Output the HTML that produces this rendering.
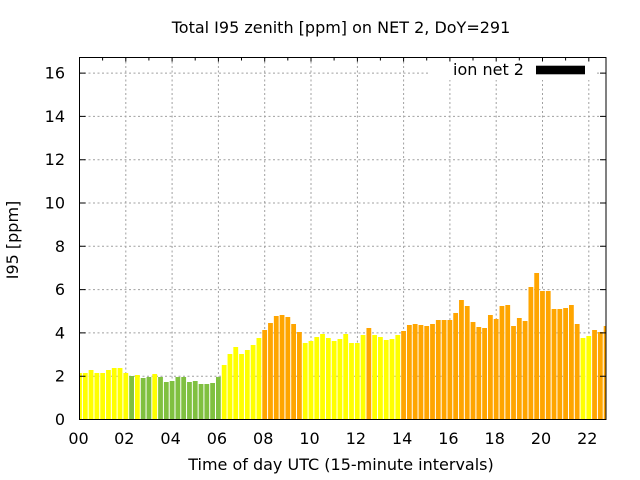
<!DOCTYPE html>
<html>
<head>
<meta charset="utf-8">
<style>
html,body{margin:0;padding:0;background:#fff;}
svg{display:block;}
text{font-family:"DejaVu Sans","Liberation Sans",sans-serif;font-size:16px;fill:#000;}
</style>
</head>
<body>
<svg width="640" height="480" viewBox="0 0 640 480" xmlns="http://www.w3.org/2000/svg">
<rect width="640" height="480" fill="#fff"/>
<defs><clipPath id="pc"><rect x="79.5" y="57" width="526.5" height="362.5"/></clipPath></defs>
<path fill="none" stroke="#a0a0a0" stroke-dasharray="2,2.5" d="M79.5 376.2H606M79.5 332.9H606M79.5 289.6H606M79.5 246.3H606M79.5 203H606M79.5 159.7H606M79.5 116.4H606M79.5 73.1H606M125.8 57V419.5M172.1 57V419.5M218.4 57V419.5M264.7 57V419.5M311 57V419.5M357.4 57V419.5M403.6 57V419.5M449.9 57V419.5M496.2 57V419.5M542.5 57V419.5M588.8 57V419.5"/>
<rect x="428" y="58" width="167" height="22" fill="#fff"/>
<g clip-path="url(#pc)">
<path fill="#ffff00" d="M77.1 419.5V373h4.8V419.5zM82.89 419.5V373h4.8V419.5zM88.67 419.5V370h4.8V419.5zM94.46 419.5V373h4.8V419.5zM100.25 419.5V373h4.8V419.5zM106.04 419.5V370h4.8V419.5zM111.82 419.5V368h4.8V419.5zM117.61 419.5V368h4.8V419.5zM123.4 419.5V373h4.8V419.5zM134.97 419.5V375h4.8V419.5zM152.33 419.5V374h4.8V419.5zM221.78 419.5V365h4.8V419.5zM227.56 419.5V354h4.8V419.5zM233.35 419.5V347h4.8V419.5zM239.14 419.5V354h4.8V419.5zM244.92 419.5V350h4.8V419.5zM250.71 419.5V345h4.8V419.5zM256.5 419.5V338h4.8V419.5zM302.79 419.5V343h4.8V419.5zM308.58 419.5V341h4.8V419.5zM314.37 419.5V337h4.8V419.5zM320.15 419.5V334h4.8V419.5zM325.94 419.5V338h4.8V419.5zM331.73 419.5V341h4.8V419.5zM337.52 419.5V339h4.8V419.5zM343.3 419.5V334h4.8V419.5zM349.09 419.5V343h4.8V419.5zM354.88 419.5V343h4.8V419.5zM360.66 419.5V335h4.8V419.5zM372.24 419.5V335h4.8V419.5zM378.02 419.5V337h4.8V419.5zM383.81 419.5V340h4.8V419.5zM389.6 419.5V339h4.8V419.5zM395.39 419.5V335h4.8V419.5zM580.57 419.5V338h4.8V419.5zM586.36 419.5V336h4.8V419.5z"/>
<path fill="#80c040" d="M129.18 419.5V376h4.8V419.5zM140.76 419.5V378h4.8V419.5zM146.54 419.5V377h4.8V419.5zM158.12 419.5V377h4.8V419.5zM163.91 419.5V382h4.8V419.5zM169.69 419.5V381h4.8V419.5zM175.48 419.5V377h4.8V419.5zM181.27 419.5V377h4.8V419.5zM187.05 419.5V382h4.8V419.5zM192.84 419.5V381h4.8V419.5zM198.63 419.5V384h4.8V419.5zM204.41 419.5V384h4.8V419.5zM210.2 419.5V383h4.8V419.5zM215.99 419.5V377h4.8V419.5z"/>
<path fill="#ffa500" d="M262.28 419.5V330h4.8V419.5zM268.07 419.5V323h4.8V419.5zM273.86 419.5V316h4.8V419.5zM279.65 419.5V315h4.8V419.5zM285.43 419.5V317h4.8V419.5zM291.22 419.5V324h4.8V419.5zM297.01 419.5V332h4.8V419.5zM366.45 419.5V328h4.8V419.5zM401.17 419.5V331h4.8V419.5zM406.96 419.5V325h4.8V419.5zM412.75 419.5V324h4.8V419.5zM418.53 419.5V325h4.8V419.5zM424.32 419.5V326h4.8V419.5zM430.11 419.5V324h4.8V419.5zM435.89 419.5V320h4.8V419.5zM441.68 419.5V320h4.8V419.5zM447.47 419.5V320h4.8V419.5zM453.26 419.5V313h4.8V419.5zM459.04 419.5V300h4.8V419.5zM464.83 419.5V306h4.8V419.5zM470.62 419.5V322h4.8V419.5zM476.4 419.5V327h4.8V419.5zM482.19 419.5V328h4.8V419.5zM487.98 419.5V315h4.8V419.5zM493.76 419.5V319h4.8V419.5zM499.55 419.5V306h4.8V419.5zM505.34 419.5V305h4.8V419.5zM511.13 419.5V326h4.8V419.5zM516.91 419.5V318h4.8V419.5zM522.7 419.5V321h4.8V419.5zM528.49 419.5V287h4.8V419.5zM534.27 419.5V273h4.8V419.5zM540.06 419.5V291h4.8V419.5zM545.85 419.5V291h4.8V419.5zM551.63 419.5V309h4.8V419.5zM557.42 419.5V309h4.8V419.5zM563.21 419.5V308h4.8V419.5zM569 419.5V305h4.8V419.5zM574.78 419.5V324h4.8V419.5zM592.14 419.5V330h4.8V419.5zM597.93 419.5V332h4.8V419.5zM603.72 419.5V326h4.8V419.5z"/>
</g>
<text x="453" y="75">ion net 2</text>
<rect x="536" y="65.7" width="49" height="8.6" fill="#000"/>
<rect x="79.5" y="57.5" width="526.5" height="362" fill="none" stroke="#000"/>
<path fill="none" stroke="#000" d="M79.5 376.2h6M606 376.2h-6M79.5 332.9h6M606 332.9h-6M79.5 289.6h6M606 289.6h-6M79.5 246.3h6M606 246.3h-6M79.5 203h6M606 203h-6M79.5 159.7h6M606 159.7h-6M79.5 116.4h6M606 116.4h-6M79.5 73.1h6M606 73.1h-6M125.8 57.5v4M172.1 57.5v4M218.4 57.5v4M264.7 57.5v4M311 57.5v4M357.4 57.5v4M403.6 57.5v4M449.9 57.5v4M496.2 57.5v4M542.5 57.5v4M588.8 57.5v4M102.6 57.5v3M148.9 57.5v3M195.2 57.5v3M241.5 57.5v3M287.8 57.5v3M334.1 57.5v3M380.4 57.5v3M426.7 57.5v3M473 57.5v3M519.3 57.5v3M565.6 57.5v3"/>
<g text-anchor="end">
<text x="65" y="425">0</text><text x="65" y="381.7">2</text><text x="65" y="338.4">4</text><text x="65" y="295.1">6</text><text x="65" y="251.8">8</text><text x="65" y="208.5">10</text><text x="65" y="165.2">12</text><text x="65" y="121.9">14</text><text x="65" y="78.6">16</text>
</g>
<g text-anchor="middle">
<text x="78.5" y="444">00</text><text x="124.3" y="444">02</text><text x="170.6" y="444">04</text><text x="216.9" y="444">06</text><text x="263.2" y="444">08</text><text x="309.5" y="444">10</text><text x="355.9" y="444">12</text><text x="402.1" y="444">14</text><text x="448.4" y="444">16</text><text x="494.7" y="444">18</text><text x="541" y="444">20</text><text x="587.3" y="444">22</text>
</g>
<text x="341" y="33" text-anchor="middle">Total I95 zenith [ppm] on NET 2, DoY=291</text>
<text x="341" y="470" text-anchor="middle">Time of day UTC (15-minute intervals)</text>
<text transform="translate(18,240) rotate(-90)" text-anchor="middle">I95 [ppm]</text>
</svg>
</body>
</html>
